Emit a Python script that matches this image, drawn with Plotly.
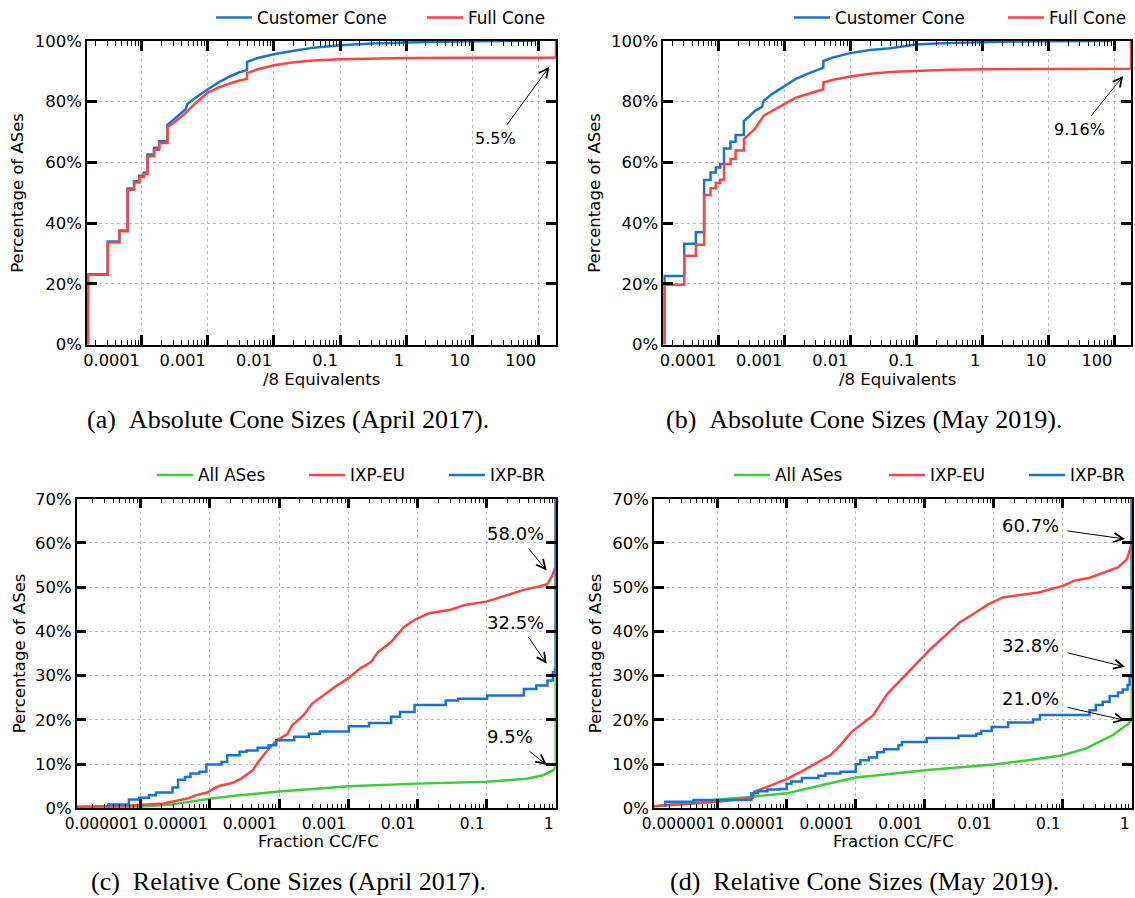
import plotly.graph_objects as go

W, H = 1135, 898

BLUE = "#1874d2"
RED = "#ff4343"
GREEN = "#3ccc3c"
FONT = "DejaVu Sans"

# ---------------- data ----------------
# (a) Absolute cone sizes, April 2017: x = /8 equivalents, y = % of ASes
a_cc_x = [1.53e-5, 1.53e-5, 3.05e-5, 3.05e-5, 4.58e-5, 4.58e-5, 6.1e-5, 6.1e-5,
          7.63e-5, 7.63e-5, 9.16e-5, 9.16e-5, 1.07e-4, 1.07e-4, 1.22e-4, 1.22e-4,
          1.53e-4, 1.53e-4, 1.83e-4, 1.83e-4, 2.44e-4, 2.44e-4, 3.0e-4, 3.75e-4,
          4.6e-4, 4.88e-4, 6.5e-4, 1e-3, 1.5e-3, 2.15e-3, 3.0e-3, 3.9e-3,
          3.92e-3, 5.5e-3, 1e-2, 2e-2, 4e-2, 0.1, 0.3, 1, 3, 10, 91]
a_cc_y = [0, 23.2, 23.2, 34.0, 34.0, 37.6, 37.6, 51.4,
          51.4, 53.8, 53.8, 55.6, 55.6, 56.6, 56.6, 62.6,
          62.6, 64.8, 64.8, 67.0, 67.0, 72.4, 74.0, 75.9,
          77.5, 79.2, 81.3, 84.1, 86.5, 88.3, 89.7, 90.4,
          93.1, 94.3, 95.6, 96.8, 97.8, 98.6, 99.2, 99.5, 99.8, 99.9, 100]
a_fc_x = [1.53e-5, 1.53e-5, 3.05e-5, 3.05e-5, 4.58e-5, 4.58e-5, 6.1e-5, 6.1e-5,
          7.63e-5, 7.63e-5, 9.16e-5, 9.16e-5, 1.07e-4, 1.07e-4, 1.22e-4, 1.22e-4,
          1.53e-4, 1.53e-4, 1.83e-4, 1.83e-4, 2.44e-4, 2.44e-4, 3.0e-4, 3.75e-4,
          4.88e-4, 6.5e-4, 1e-3, 1.5e-3, 2.15e-3, 3.0e-3, 3.9e-3, 3.92e-3,
          5.5e-3, 1e-2, 2e-2, 4e-2, 0.1, 0.3, 1, 10, 186, 186]
a_fc_y = [0, 23.0, 23.0, 33.7, 33.7, 37.3, 37.3, 51.0,
          51.0, 53.4, 53.4, 55.2, 55.2, 56.2, 56.2, 62.0,
          62.0, 64.2, 64.2, 66.4, 66.4, 71.6, 73.0, 74.6,
          76.8, 79.5, 83.0, 84.8, 86.0, 87.0, 87.5, 89.4,
          90.6, 92.0, 93.0, 93.6, 94.0, 94.3, 94.4, 94.5, 94.5, 100]

# (b) Absolute cone sizes, May 2019
b_cc_x = [1.53e-5, 1.53e-5, 3.05e-5, 3.05e-5, 4.58e-5, 4.58e-5, 6.1e-5, 6.1e-5,
          7.63e-5, 7.63e-5, 9.16e-5, 9.16e-5, 1.07e-4, 1.07e-4, 1.22e-4, 1.22e-4,
          1.53e-4, 1.53e-4, 1.83e-4, 1.83e-4, 2.44e-4, 2.44e-4, 3.0e-4, 3.6e-4,
          4.6e-4, 4.88e-4, 6.5e-4, 1e-3, 1.5e-3, 2.2e-3, 3.0e-3, 3.9e-3,
          3.92e-3, 5.5e-3, 1e-2, 2e-2, 4e-2, 0.1, 0.3, 1, 3, 10, 91]
b_cc_y = [0, 22.6, 22.6, 33.2, 33.2, 37.0, 37.0, 54.2,
          54.2, 56.7, 56.7, 58.3, 58.3, 59.5, 59.5, 64.6,
          64.6, 66.8, 66.8, 69.0, 69.0, 73.6, 75.3, 77.0,
          78.3, 80.3, 82.5, 85.2, 87.5, 89.1, 90.3, 91.2,
          93.4, 94.6, 96.0, 97.0, 97.6, 98.8, 99.3, 99.6, 99.8, 99.9, 100]
b_fc_x = [1.53e-5, 1.53e-5, 3.05e-5, 3.05e-5, 4.58e-5, 4.58e-5, 6.1e-5, 6.1e-5,
          7.63e-5, 7.63e-5, 9.16e-5, 9.16e-5, 1.07e-4, 1.07e-4, 1.22e-4, 1.22e-4,
          1.53e-4, 1.53e-4, 1.83e-4, 1.83e-4, 2.44e-4, 2.44e-4, 3.0e-4, 3.6e-4,
          4.88e-4, 6.5e-4, 1e-3, 1.5e-3, 2.2e-3, 3.0e-3, 3.9e-3, 3.92e-3,
          5.5e-3, 1e-2, 2e-2, 4e-2, 0.1, 0.3, 1, 10, 180, 180]
b_fc_y = [0, 19.7, 19.7, 29.3, 29.3, 32.9, 32.9, 49.3,
          49.3, 51.5, 51.5, 53.2, 53.2, 54.3, 54.3, 59.5,
          59.5, 61.1, 61.1, 63.9, 63.9, 67.7, 69.5, 71.0,
          75.4, 77.0, 79.2, 81.3, 82.5, 83.5, 84.1, 86.3,
          87.2, 88.3, 89.2, 89.8, 90.2, 90.5, 90.7, 90.84, 90.84, 100]

# (c) Relative cone sizes, April 2017: x = fraction CC/FC
c_all_x = [1.19e-7, 1e-6, 2.6e-6, 1e-5, 2.45e-5, 1e-4, 3.9e-4, 1e-3, 1e-2,
           0.1, 0.38, 0.66, 0.92, 1.0, 1.0]
c_all_y = [0.3, 0.45, 0.8, 2.2, 2.9, 3.8, 4.5, 5.0, 5.6,
           6.0, 6.7, 7.5, 8.6, 9.5, 100]
c_eu_x = [1.19e-7, 6.31e-7, 2.14e-6, 3.47e-6, 4.9e-6, 6.31e-6, 9.12e-6, 1.32e-5,
          2.14e-5, 2.88e-5, 4.17e-5, 4.9e-5, 6.76e-5, 9.12e-5, 1.32e-4, 1.55e-4,
          2.24e-4, 3.02e-4, 4.68e-4, 6.31e-4, 1.02e-3, 1.48e-3, 2.14e-3, 2.69e-3,
          4.17e-3, 6.31e-3, 9.55e-3, 1.48e-2, 3.02e-2, 4.9e-2, 0.102, 0.186,
          0.347, 0.55, 0.759, 0.891, 1.0, 1.0]
c_eu_y = [0.4, 0.6, 1.1, 1.9, 2.3, 3.0, 3.6, 5.0,
          5.8, 6.8, 8.6, 10.3, 13.1, 15.3, 16.8, 18.8,
          21.0, 23.7, 25.9, 27.4, 29.5, 31.6, 33.1, 35.3,
          37.6, 40.9, 42.8, 44.1, 44.9, 46.0, 46.8, 48.1,
          49.4, 50.1, 50.7, 52.6, 54.8, 100]
c_br_x = [3.39e-7, 3.39e-7, 6.76e-7, 9.55e-7, 1.32e-6, 1.66e-6, 2.88e-6, 3.47e-6,
          4.37e-6, 5.25e-6, 7.08e-6, 8.91e-6, 1.48e-5, 1.78e-5, 2.69e-5, 3.39e-5,
          4.9e-5, 7.08e-5, 9.12e-5, 1.66e-4, 2.69e-4, 3.89e-4, 1.02e-3, 2.0e-3,
          4.17e-3, 5.62e-3, 9.12e-3, 0.0257, 0.0389, 0.102, 0.347, 0.525,
          0.759, 0.912, 0.977, 1.0, 1.0]
c_br_y = [0.2, 0.9, 2.0, 2.4, 3.0, 3.6, 4.7, 6.5,
          7.1, 7.9, 8.3, 9.9, 10.5, 12.0, 12.8, 13.1,
          13.7, 14.3, 15.4, 16.2, 16.9, 17.4, 18.6, 19.3,
          20.7, 21.8, 23.4, 24.4, 24.8, 25.5, 27.0, 27.8,
          28.9, 30.8, 31.5, 33.0, 100]

# (d) Relative cone sizes, May 2019
d_all_x = [1.2e-7, 2.75e-7, 1e-6, 3.02e-6, 1e-5, 3.31e-5, 1e-4, 3.72e-4, 1e-3,
           4.07e-3, 1e-2, 3.16e-2, 0.1, 0.214, 0.389, 0.525, 0.708, 0.912, 1.0, 1.0]
d_all_y = [0.5, 1.1, 2.0, 2.6, 3.4, 5.3, 7.0, 7.9, 8.6,
           9.4, 9.9, 10.9, 12.0, 13.5, 15.4, 16.5, 18.0, 19.2, 20.3, 100]
d_eu_x = [1.2e-7, 2.75e-7, 1e-6, 3.24e-6, 3.39e-6, 6.17e-6, 1e-5, 1.62e-5,
          2.63e-5, 4.27e-5, 6.03e-5, 8.71e-5, 1.26e-4, 1.78e-4, 2.88e-4, 4.68e-4,
          7.59e-4, 1.23e-3, 2.0e-3, 3.24e-3, 5.13e-3, 8.32e-3, 1.35e-2, 2.75e-2,
          4.47e-2, 0.1, 0.148, 0.24, 0.389, 0.631, 0.851, 0.966, 1.0, 1.0]
d_eu_y = [0.5, 0.9, 1.5, 2.4, 3.8, 5.3, 6.6, 8.3,
          10.1, 12.0, 14.3, 17.3, 19.2, 21.0, 25.9, 29.3,
          32.7, 36.1, 39.1, 42.1, 44.0, 46.1, 47.7, 48.3,
          48.8, 50.3, 51.5, 52.1, 53.3, 54.5, 56.3, 59.0, 60.4, 100]
d_br_x = [1.74e-7, 1.74e-7, 4.47e-7, 3.09e-6, 3.8e-6, 5.25e-6, 7.94e-6, 1e-5,
          1.17e-5, 1.66e-5, 2.88e-5, 3.63e-5, 6.03e-5, 1e-4, 1.17e-4, 1.55e-4,
          2.04e-4, 2.57e-4, 4.17e-4, 4.68e-4, 1.07e-3, 3.09e-3, 5.62e-3, 6.61e-3,
          9.33e-3, 1.62e-2, 3.72e-2, 4.68e-2, 0.245, 0.302, 0.38, 0.479,
          0.631, 0.741, 0.871, 0.933, 1.0, 1.0]
d_br_y = [0.4, 1.5, 1.9, 3.4, 3.9, 4.3, 4.4, 5.6,
          6.1, 6.9, 7.4, 7.9, 8.3, 10.0, 10.9, 11.5,
          12.7, 13.4, 14.3, 15.0, 15.9, 16.4, 16.9, 17.5,
          18.4, 19.4, 20.1, 21.1, 22.2, 23.4, 24.1, 25.4,
          26.2, 26.9, 27.9, 29.8, 31.3, 100]

abs_ticks = [1e-4, 1e-3, 1e-2, 0.1, 1, 10, 100]
abs_ticktext = ["0.0001", "0.001", "0.01", "0.1", "1", "10", "100"]
rel_ticks = [1e-6, 1e-5, 1e-4, 1e-3, 1e-2, 0.1, 1]
rel_ticktext = ["0.000001", "0.00001", "0.0001", "0.001", "0.01", "0.1", "1"]

captions = ["(a)\u2002Absolute Cone Sizes (April 2017).",
            "(b)\u2002Absolute Cone Sizes (May 2019).",
            "(c)\u2002Relative Cone Sizes (April 2017).",
            "(d)\u2002Relative Cone Sizes (May 2019)."]

# ---------------- figure ----------------
fig = go.Figure()

def px_x(p):
    return p / W

def px_y(p):
    return 1 - p / H

traces = [
    # x, y, name, color, axis suffix, legend key, shape
    (a_cc_x, a_cc_y, "Customer Cone", BLUE, "", "legend", "linear"),
    (a_fc_x, a_fc_y, "Full Cone", RED, "", "legend2", "linear"),
    (b_cc_x, b_cc_y, "Customer Cone", BLUE, "2", "legend3", "linear"),
    (b_fc_x, b_fc_y, "Full Cone", RED, "2", "legend4", "linear"),
    (c_all_x, c_all_y, "All ASes", GREEN, "3", "legend5", "linear"),
    (c_eu_x, c_eu_y, "IXP-EU", RED, "3", "legend6", "linear"),
    (c_br_x, c_br_y, "IXP-BR", BLUE, "3", "legend7", "hv"),
    (d_all_x, d_all_y, "All ASes", GREEN, "4", "legend8", "linear"),
    (d_eu_x, d_eu_y, "IXP-EU", RED, "4", "legend9", "linear"),
    (d_br_x, d_br_y, "IXP-BR", BLUE, "4", "legend10", "hv"),
]
for x, y, name, color, ax, leg, shape in traces:
    assert len(x) == len(y), name
    fig.add_trace(go.Scatter(
        x=x, y=y, name=name, mode="lines",
        line=dict(color=color, width=2.5, shape=shape),
        xaxis="x" + ax, yaxis="y" + ax, legend=leg, showlegend=True,
        hoverinfo="skip"))

# legend placement: (sample start px, center y px)
legend_pos = {
    "legend": (216, 17), "legend2": (427, 17),
    "legend3": (794, 17), "legend4": (1008, 17),
    "legend5": (157, 475), "legend6": (309, 475), "legend7": (449, 475),
    "legend8": (734, 475), "legend9": (889, 475), "legend10": (1029, 475),
}
layout = dict(
    width=W, height=H, margin=dict(l=0, r=0, t=0, b=0),
    paper_bgcolor="white", plot_bgcolor="white",
    font=dict(family=FONT, size=16, color="black"),
    template="none",
)
for key, (sx, cy) in legend_pos.items():
    layout[key] = dict(x=px_x(sx - 5), xanchor="left", y=px_y(cy), yanchor="middle",
                       orientation="h", bgcolor="rgba(0,0,0,0)", borderwidth=0,
                       font=dict(family=FONT, size=16.8, color="black"),
                       itemwidth=36)

def minor_vals(lo, hi):
    vals = []
    for e in range(lo, hi + 1):
        for m in range(2, 10):
            vals.append(m * 10.0 ** e)
    return vals

def xaxis(domain, rng, tv, tt, anchor, mlo, mhi, fs):
    return dict(domain=domain, type="log", range=rng, anchor=anchor,
                tickmode="array", tickvals=tv, ticktext=tt, tickangle=0,
                ticklabelposition="outside left",
                ticks="inside", ticklen=10, tickwidth=2.5, tickcolor="black",
                showline=True, linecolor="black", linewidth=1.5, mirror="allticks",
                showgrid=True, gridcolor="#bdbdbd", griddash="dot", gridwidth=1,
                zeroline=False, tickfont=dict(family=FONT, size=fs, color="black"),
                minor=dict(tickvals=minor_vals(mlo, mhi), ticks="inside", ticklen=5,
                           tickwidth=1.2, tickcolor="black", showgrid=False))

def yaxis(domain, top, step, anchor):
    return dict(domain=domain, range=[0, top], anchor=anchor,
                tickmode="linear", tick0=0, dtick=step, ticksuffix="%",
                ticks="inside", ticklen=10, tickwidth=2.5, tickcolor="black",
                showline=True, linecolor="black", linewidth=1.5, mirror="allticks",
                showgrid=True, gridcolor="#bdbdbd", griddash="dot", gridwidth=1,
                zeroline=False, tickfont=dict(family=FONT, size=16.5, color="black"))

top_y = [px_y(344), px_y(40)]
bot_y = [px_y(808.3), px_y(498.3)]
layout["xaxis"] = xaxis([px_x(87), px_x(556)], [-4.83, 2.27], abs_ticks, abs_ticktext, "y", -5, 2, 16.2)
layout["xaxis2"] = xaxis([px_x(663.3), px_x(1131)], [-4.833, 2.253], abs_ticks, abs_ticktext, "y2", -5, 2, 16.2)
layout["xaxis3"] = xaxis([px_x(76.7), px_x(555.7)], [-6.925, 0.0], rel_ticks, rel_ticktext, "y3", -7, -1, 15.5)
layout["xaxis4"] = xaxis([px_x(654), px_x(1131.7)], [-6.923, 0.0], rel_ticks, rel_ticktext, "y4", -7, -1, 15.5)
layout["yaxis"] = yaxis(top_y, 100, 20, "x")
layout["yaxis2"] = yaxis(top_y, 100, 20, "x2")
layout["yaxis3"] = yaxis(bot_y, 70, 10, "x3")
layout["yaxis4"] = yaxis(bot_y, 70, 10, "x4")
fig.update_layout(**layout)

ann = []
# axis titles
for cx, cy, t in [(321, 379, "/8 Equivalents"), (897, 379, "/8 Equivalents"),
                  (318, 841, "Fraction CC/FC"), (893, 841, "Fraction CC/FC")]:
    ann.append(dict(x=px_x(cx), y=px_y(cy), xref="paper", yref="paper", text=t,
                    showarrow=False, xanchor="center", yanchor="middle",
                    font=dict(family=FONT, size=16.5, color="black")))
for cx, cy in [(18, 192), (595, 192), (19, 653), (595, 653)]:
    ann.append(dict(x=px_x(cx), y=px_y(cy), xref="paper", yref="paper",
                    text="Percentage of ASes", textangle=-90, showarrow=False,
                    xanchor="center", yanchor="middle",
                    font=dict(family=FONT, size=16.5, color="black")))
# captions
for cx, cy, t in [(288, 419, captions[0]), (864, 419, captions[1]),
                  (288, 881, captions[2]), (864, 881, captions[3])]:
    ann.append(dict(x=px_x(cx), y=px_y(cy), xref="paper", yref="paper", text=t,
                    showarrow=False, xanchor="center", yanchor="middle",
                    font=dict(family="Liberation Serif", size=26, color="black")))

# value callouts: (axis suffix, text, text log-x, text y, head log-x, head y, ax px, ay px, size)
callouts = [
    ("", "5.5%", 1.348, 67.9, 2.167, 91.5, -43.7, 60.0, 16),
    ("2", "9.16%", 1.476, 70.7, 2.135, 88.5, -33.4, 41.7, 16),
    ("3", "58.0%", -0.578, 62.1, -0.13, 53.8, -19.4, -23.3, 18),
    ("3", "32.5%", -0.578, 42.1, -0.13, 32.7, -19.4, -28.3, 18),
    ("3", "9.5%", -0.665, 16.2, -0.13, 9.8, -18.7, -15.0, 18),
    ("4", "60.7%", -1.462, 64.0, -0.097, 60.9, -59.0, -8.3, 18),
    ("4", "32.8%", -1.462, 36.9, -0.097, 32.0, -59.0, -14.4, 18),
    ("4", "21.0%", -1.462, 24.8, -0.097, 19.9, -59.0, -13.3, 18),
]
for axs, t, tx, ty, hx, hy, axp, ayp, fs in callouts:
    ann.append(dict(x=tx, y=ty, xref="x" + axs, yref="y" + axs, text=t,
                    showarrow=False, xanchor="center", yanchor="middle",
                    font=dict(family=FONT, size=fs, color="black")))
    ann.append(dict(x=hx, y=hy, xref="x" + axs, yref="y" + axs, text="",
                    showarrow=True, ax=axp, ay=ayp, arrowhead=5, arrowsize=1.8,
                    arrowwidth=1, arrowcolor="black", standoff=0, startstandoff=0))
fig.update_layout(annotations=ann)

fig.write_html("out.html")
